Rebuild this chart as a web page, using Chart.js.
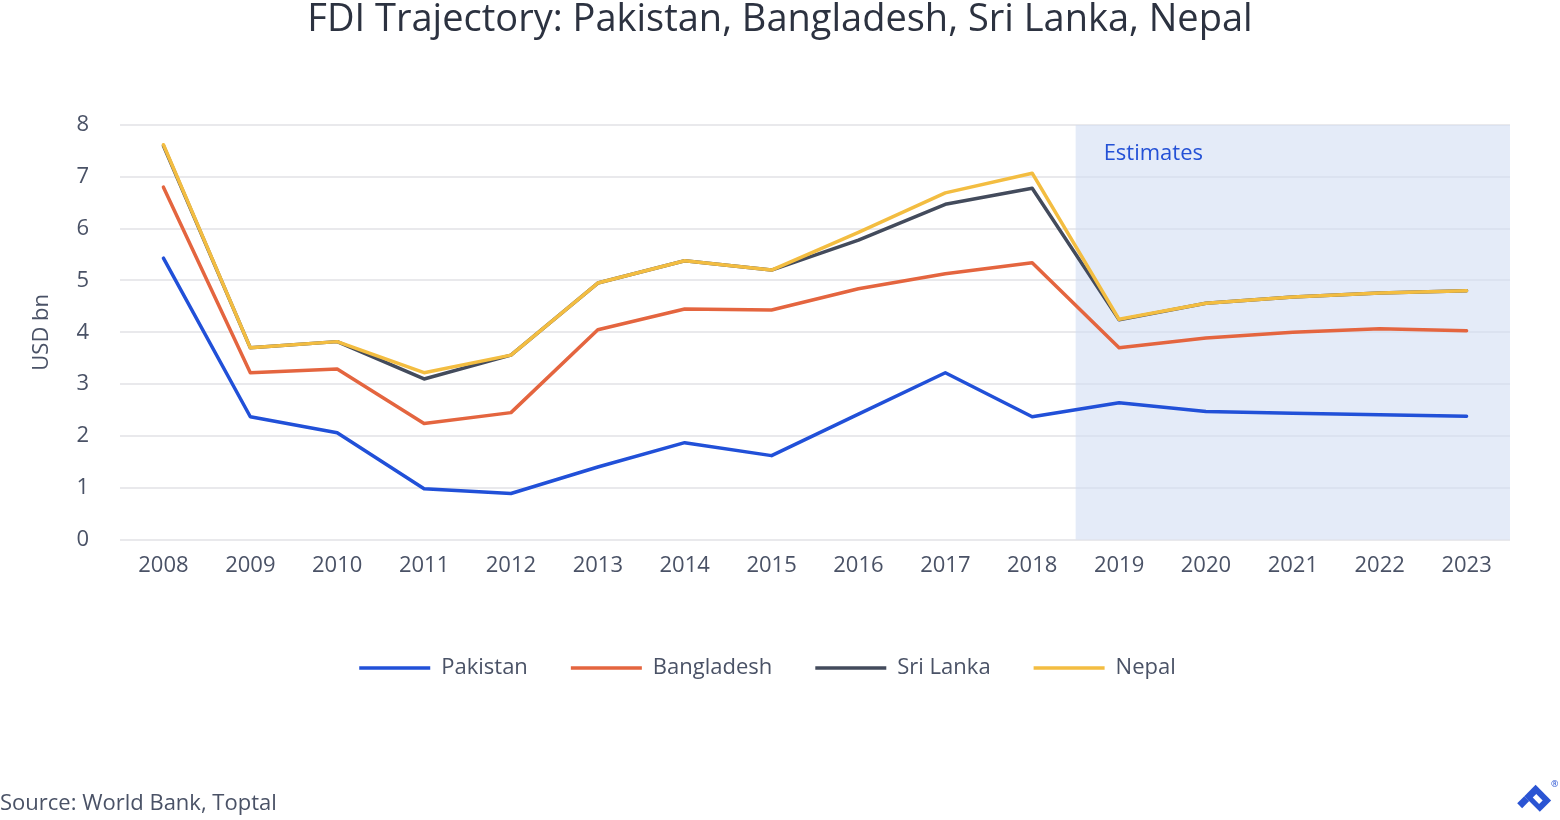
<!DOCTYPE html>
<html>
<head>
<meta charset="utf-8">
<script src="https://cdn.jsdelivr.net/npm/chart.js@4.4.0/dist/chart.umd.min.js"></script>
<style>
  html, body { margin: 0; padding: 0; background: #ffffff; }
  #wrap { width: 1560px; height: 820px; position: relative; }
</style>
</head>
<body>
<div id="wrap"><canvas id="lineChart"></canvas></div>
<script>
// datos (USD bn)
const years = ['2008', '2009', '2010', '2011', '2012', '2013', '2014', '2015',
               '2016', '2017', '2018', '2019', '2020', '2021', '2022', '2023'];
const pakistan   = [5.43, 2.37, 2.06, 0.98, 0.89, 1.40, 1.87, 1.62, 2.42, 3.22, 2.37, 2.64, 2.47, 2.44, 2.41, 2.38];
const bangladesh = [6.80, 3.22, 3.29, 2.24, 2.45, 4.05, 4.45, 4.43, 4.84, 5.13, 5.34, 3.70, 3.89, 4.00, 4.07, 4.03];
const sriLanka   = [7.60, 3.70, 3.82, 3.10, 3.56, 4.95, 5.38, 5.20, 5.78, 6.47, 6.78, 4.24, 4.56, 4.68, 4.76, 4.80];
const nepal      = [7.62, 3.70, 3.82, 3.22, 3.56, 4.95, 5.38, 5.20, 5.93, 6.69, 7.07, 4.25, 4.56, 4.68, 4.76, 4.80];
const yTicks = [0, 1, 2, 3, 4, 5, 6, 7, 8];
const firstEstimate = '2019';

const FONT = '"Open Sans", Lato, sans-serif';
const textColor = '#4a5266';

// zona sombreada de estimaciones + textos extra
const estimatesPlugin = {
    id: 'estimates',
    beforeDatasetsDraw(chart) {
        const { ctx, chartArea, scales } = chart;
        const i = years.indexOf(firstEstimate);
        const x0 = (scales.x.getPixelForValue(i - 1) + scales.x.getPixelForValue(i)) / 2;
        ctx.save();
        ctx.fillStyle = 'rgba(210, 222, 244, 0.6)';
        ctx.fillRect(x0, chartArea.top, chartArea.right - x0, chartArea.bottom - chartArea.top);
        ctx.fillStyle = '#2451d6';
        ctx.font = '22px ' + FONT;
        ctx.textBaseline = 'middle';
        ctx.fillText('Estimates', x0 + 28, chartArea.top + 29);
        ctx.restore();
    },
    afterDraw(chart) {
        const { ctx, chartArea } = chart;
        ctx.save();
        // titulo principal
        ctx.fillStyle = '#2c3240';
        ctx.font = '38px ' + FONT;
        ctx.textAlign = 'center';
        ctx.textBaseline = 'middle';
        ctx.fillText('FDI Trajectory: Pakistan, Bangladesh, Sri Lanka, Nepal', 780, 20);
        ctx.textAlign = 'left';
        ctx.fillStyle = textColor;
        ctx.font = '22px ' + FONT;
        ctx.fillText('Source: World Bank, Toptal', 0, 804);
        // titulo del eje y
        ctx.save();
        ctx.translate(42, (chartArea.top + chartArea.bottom) / 2);
        ctx.rotate(-Math.PI / 2);
        ctx.textAlign = 'center';
        ctx.fillText('USD bn', 0, 0);
        ctx.restore();
        // logo simple
        ctx.translate(1537, 799);
        ctx.rotate(Math.PI / 4);
        ctx.fillStyle = '#2a54d3';
        ctx.fillRect(-11, -9, 22, 16);
        ctx.fillRect(-11, 7, 7, 10);
        ctx.fillStyle = '#ffffff';
        ctx.fillRect(-4, -3, 9, 5);
        ctx.restore();
        ctx.save();
        ctx.fillStyle = '#2a54d3';
        ctx.font = '9px ' + FONT;
        ctx.fillText('®', 1551, 784);
        ctx.restore();
    }
};

const datasets = [
    { label: 'Pakistan',   data: pakistan,   borderColor: '#2150d8', order: 0 },
    { label: 'Bangladesh', data: bangladesh, borderColor: '#e4653f', order: 0 },
    { label: 'Sri Lanka',  data: sriLanka,   borderColor: '#434b5c', order: 0 },
    { label: 'Nepal',      data: nepal,      borderColor: '#f3bd41', order: -1 }
].map(d => Object.assign(d, {
    backgroundColor: d.borderColor,
    borderWidth: 3.5,
    pointRadius: 0,
    tension: 0,
    borderCapStyle: 'round',
    borderJoinStyle: 'round'
}));

const ctx = document.getElementById('lineChart').getContext('2d');
new Chart(ctx, {
    type: 'line',
    data: { labels: years, datasets: datasets },
    plugins: [estimatesPlugin],
    options: {
        responsive: true,
        maintainAspectRatio: false,
        animation: false,
        layout: { padding: { left: 25, right: 50, top: 125, bottom: 131 } },
        plugins: {
            title: { display: false },
            legend: {
                position: 'bottom',
                labels: {
                    usePointStyle: true,
                    pointStyle: 'line',
                    pointStyleWidth: 71,
                    color: textColor,
                    font: { family: FONT, size: 22 },
                    padding: 43,
                    sort: (a, b) => a.datasetIndex - b.datasetIndex
                }
            },
            tooltip: { enabled: false }
        },
        scales: {
            x: {
                offset: true,
                grid: { display: false },
                border: { display: false },
                afterFit: axis => { axis.height += 30; },
                ticks: { color: textColor, font: { family: FONT, size: 22 }, padding: 5, maxRotation: 0 }
            },
            y: {
                min: 0,
                max: 8,
                afterBuildTicks: axis => { axis.ticks = yTicks.map(v => ({ value: v })); },
                afterFit: axis => { axis.width = 95; },
                grid: { color: '#e9e9ec', lineWidth: 2, drawTicks: false },
                border: { display: false },
                ticks: { color: textColor, font: { family: FONT, size: 22 }, padding: 31 }
            }
        }
    }
});
</script>
</body>
</html>
